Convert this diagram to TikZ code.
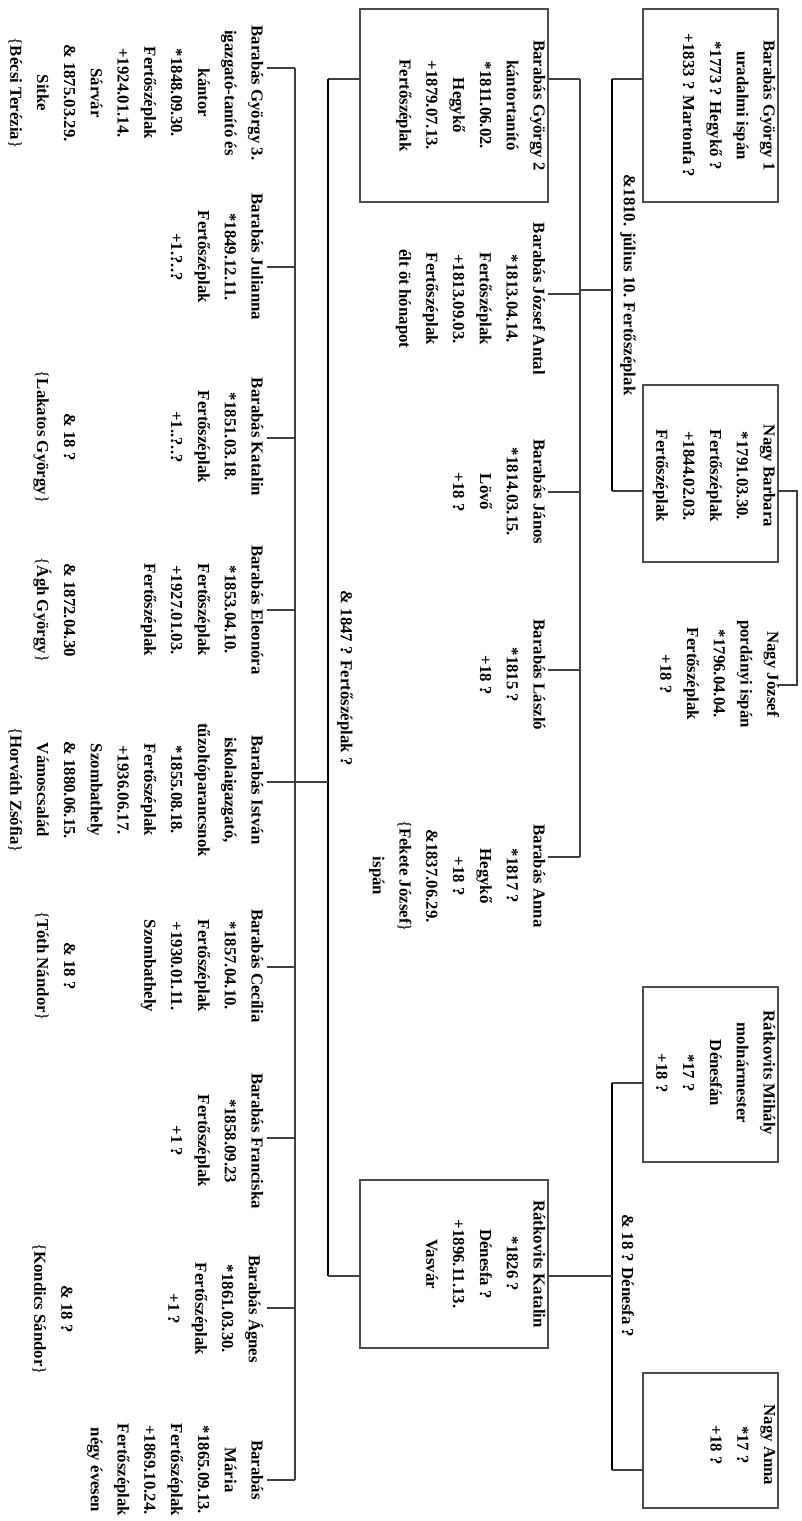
\documentclass[tikz,border=0pt]{standalone}
\usepackage{fontspec}
\setmainfont{Liberation Serif}
\definecolor{linec}{gray}{0.25}
\definecolor{boxc}{gray}{0.3}
\tikzset{
  txt/.style={font=\fontsize{16.8}{26.8}\selectfont\bfseries, align=center, inner sep=2.5pt, anchor=north, execute at begin node=\strut},
  lbl/.style={font=\fontsize{16.8}{20}\selectfont\bfseries, inner sep=0pt},
  pbox/.style={draw=boxc, line width=1.3pt, inner sep=0pt},
  thinl/.style={draw=linec, line width=1.1pt},
  thickl/.style={draw=black, line width=1.9pt},
}
\newcommand{\emptyrow}{\mbox{}}
\newcommand{\lbr}{{\mdseries\{}}
\newcommand{\rbr}{{\mdseries\}}}
\begin{document}
\begin{tikzpicture}[x=1pt,y=1pt]
\begin{scope}[rotate=-90, transform shape]
\useasboundingbox (0,0) rectangle (1521,801);
% ---------- generation 1 boxes ----------
\node[pbox, minimum width=193pt, minimum height=135pt] (g1box) at (105.5,710.5) {};
\node[txt] (g1) at (105.5,778) {Barabás György 1\\uradalmi ispán\\*1773 ? Hegykő ?\\+1833 ? Martonfa ?};
\node[pbox, minimum width=177pt, minimum height=135pt] (nbbox) at (473.5,710.5) {};
\node[txt] (nb) at (476,778) {Nagy Barbara\\*1791.03.30.\\Fertőszéplak\\+1844.02.03.\\Fertőszéplak};
\node[txt] (nj) at (674,782) {Nagy József\\pordányi ispán\\*1796.04.04.\\Fertőszéplak\\+18 ?};
\node[pbox, minimum width=175pt, minimum height=135pt] (rmbox) at (1074.5,710.5) {};
\node[txt] (rm) at (1073,778) {Rátkovits Mihály\\molnármester\\Dénesfán\\*17 ?\\+18 ?};
\node[pbox, minimum width=135pt, minimum height=135pt] (nabox) at (1440.5,710.5) {};
\node[txt] (na) at (1445,778) {Nagy Anna\\*17 ?\\+18 ?};
% ---------- generation 2 ----------
\node[pbox, minimum width=193pt, minimum height=188pt] (g2box) at (105.5,454) {};
\node[txt] (g2) at (105.5,548) {Barabás György 2\\kántortanító\\*1811.06.02.\\Hegykő\\+1879.07.13.\\Fertőszéplak};
\node[txt] (ja) at (299,548) {Barabás József Antal\\*1813.04.14.\\Fertőszéplak\\+1813.09.03.\\Fertőszéplak\\élt öt hónapot};
\node[txt] (jn) at (492,548) {Barabás János\\*1814.03.15.\\Lövő\\+18 ?};
\node[txt] (lz) at (675,548) {Barabás László\\*1815 ?\\+18 ?};
\node[txt] (an) at (876,548) {Barabás Anna\\*1817 ?\\Hegykő\\+18 ?\\\&1837.06.29.\\\lbr Fekete József\rbr\\ispán};
\node[pbox, minimum width=168pt, minimum height=188pt] (rkbox) at (1264,454) {};
\node[txt] (rk) at (1264,548) {Rátkovits Katalin\\*1826 ?\\Dénesfa ?\\+1896.11.13.\\Vasvár};
% ---------- generation 3 ----------
\node[txt] (c1) at (93,266) {Barabás György 3.\\igazgató-tanító és\\kántor\\*1848.09.30.\\Fertőszéplak\\+1924.01.14.\\Sárvár\\\& 1875.03.29.\\Sitke\\\lbr Bécsi Terézia\rbr};
\node[txt] (c2) at (257,266) {Barabás Julianna\\*1849.12.11.\\Fertőszéplak\\+1.?..?};
\node[txt] (c3) at (437,266) {Barabás Katalin\\*1851.03.18.\\Fertőszéplak\\+1..?..?\\\emptyrow\\\emptyrow\\\emptyrow\\\& 18 ?\\\lbr Lakatos György\rbr};
\node[txt] (c4) at (610,266) {Barabás Eleonóra\\*1853.04.10.\\Fertőszéplak\\+1927.01.03.\\Fertőszéplak\\\emptyrow\\\emptyrow\\\& 1872.04.30\\\lbr Ágh György\rbr};
\node[txt] (c5) at (790,266) {Barabás István\\iskolaigazgató,\\tűzoltóparancsnok\\*1855.08.18.\\Fertőszéplak\\+1936.06.17.\\Szombathely\\\& 1880.06.15.\\Vámoscsalád\\\lbr Horváth Zsófia\rbr};
\node[txt] (c6) at (966,266) {Barabás Cecília\\*1857.04.10.\\Fertőszéplak\\+1930.01.11.\\Szombathely\\\emptyrow\\\emptyrow\\\& 18 ?\\\lbr Tóth Nándor\rbr};
\node[txt] (c7) at (1141,266) {Barabás Franciska\\*1858.09.23\\Fertőszéplak\\+1 ?};
\node[txt] (c8) at (1309,266) {Barabás Ágnes\\*1861.03.30.\\Fertőszéplak\\+1 ?\\\emptyrow\\\emptyrow\\\emptyrow\\\& 18 ?\\\lbr Kondics Sándor\rbr};
\node[txt] (c9) at (1470,266) {Barabás\\Mária\\*1865.09.13.\\Fertőszéplak\\+1869.10.24.\\Fertőszéplak\\négy évesen};
% ---------- marriage labels ----------
\node[lbl] (m1) at (285,628) {\&1810. július 10. Fertőszéplak};
\node[lbl] (m2) at (1276,628) {\& 18 ? Dénesfa ?};
\node[lbl] (m3) at (678,345) {\& 1847 ? Fertőszéplak ?};
% ---------- junction coordinates ----------
\coordinate (a1) at (79,612);   \coordinate (a2) at (491,612);
\coordinate (b1) at (1083,612); \coordinate (b2) at (1470,612);
\coordinate (c1m) at (79,328);  \coordinate (c2m) at (1276,328);
\coordinate (s1a) at (79,580);  \coordinate (s1b) at (857,580);
\coordinate (s2a) at (68,295);  \coordinate (s2b) at (1480,295);
% marriage 1
\draw[thinl] (79,643) -- (a1);
\draw[thickl] (a1) -- (a2);
\draw[thinl] (a2) -- (491,643);
% sibling link Barbara - József
\draw[thinl] (491,778) -- (491,797) -- (685,797) -- (685,778);
% marriage Rátkovits
\draw[thinl] (1083,643) -- (b1);
\draw[thickl] (b1) -- (b2);
\draw[thinl] (b2) -- (1470,643);
\draw[thinl] (1276,612) -- (1276,548);
% children of generation 1
\draw[thinl] (290,612) -- (290,580);
\draw[thinl] (s1a) -- (s1b);
\foreach \u in {79,294,492,670,857} { \draw[thinl] (\u,580) -- (\u,548); }
% marriage 2
\draw[thinl] (79,360) -- (c1m);
\draw[thickl] (c1m) -- (c2m);
\draw[thinl] (c2m) -- (1276,360);
\draw[thinl] (782,328) -- (782,295);
\draw[thinl] (s2a) -- (s2b);
\foreach \u in {68,267,438,610,782,967,1138,1308,1480} { \draw[thinl] (\u,295) -- (\u,267); }
\end{scope}
\end{tikzpicture}
\end{document}
